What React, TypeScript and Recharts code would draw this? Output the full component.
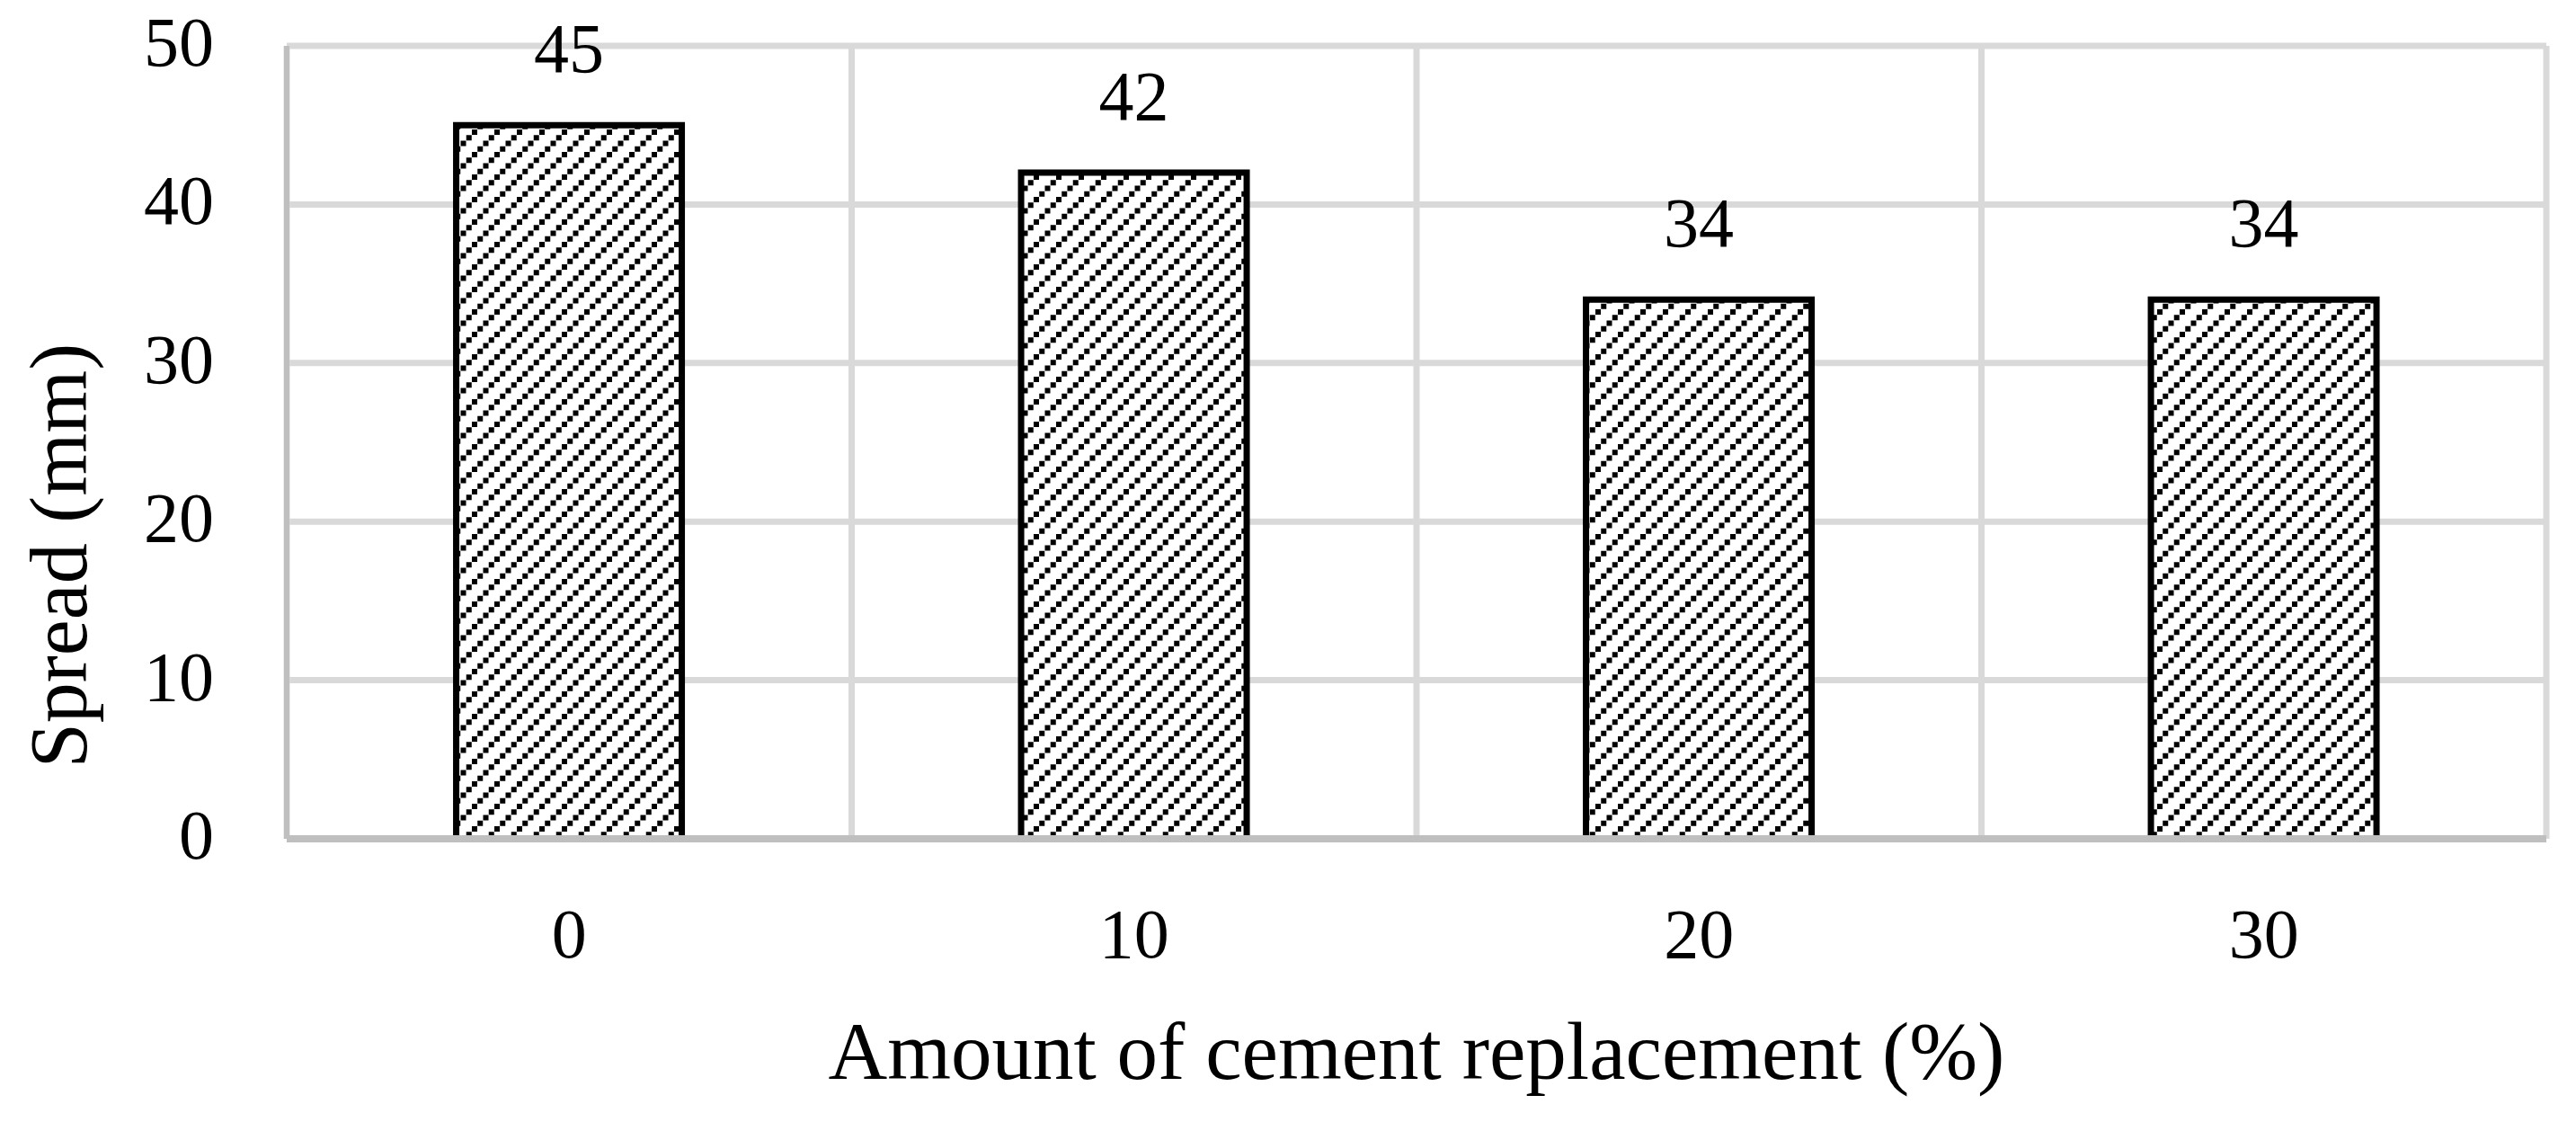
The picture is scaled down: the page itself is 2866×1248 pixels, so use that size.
import React from 'react';
import { BarChart, Bar, XAxis, YAxis, CartesianGrid, LabelList } from 'recharts';

const categories = ['0', '10', '20', '30'];
const spreadValues = [45, 42, 34, 34];
const yTicks = [0, 10, 20, 30, 40, 50];
const xTitle = 'Amount of cement replacement (%)';
const yTitle = 'Spread (mm)';

const data = categories.map((c, i) => ({ pct: c, spread: spreadValues[i] }));

const FONT = '"Liberation Serif", "Times New Roman", serif';

const XTick = (props: any) => {
  const { x, y, payload } = props;
  return (
    <text x={x} y={y} dy={132} textAnchor="middle" fontFamily={FONT} fontSize={78} fill="#000">
      {payload.value}
    </text>
  );
};

const YTick = (props: any) => {
  const { x, y, payload } = props;
  return (
    <text x={x} y={y} dy={22} textAnchor="end" fontFamily={FONT} fontSize={78} fill="#000">
      {payload.value}
    </text>
  );
};

const XTitle = (props: any) => {
  const vb = props.viewBox || { x: 319, width: 2514 };
  return (
    <text x={vb.x + vb.width / 2} y={1200} textAnchor="middle" fontFamily={FONT} fontSize={91} fill="#000">
      {xTitle}
    </text>
  );
};

const YTitle = () => (
  <text
    x={96}
    y={618}
    transform="rotate(-90 96 618)"
    textAnchor="middle"
    fontFamily={FONT}
    fontSize={90}
    fill="#000"
  >
    {yTitle}
  </text>
);

export default function App() {
  return (
    <div style={{ position: 'absolute', left: 0, top: 0, width: 2866, height: 1248, background: '#fff' }}>
      <svg width={0} height={0} style={{ position: 'absolute' }}>
        <defs>
          <pattern id="hatch" patternUnits="userSpaceOnUse" width={25} height={25}>
            <rect x={0} y={0} width={25} height={25} fill="#fff" />
            <rect x={0} y={19} width={6} height={6} fill="#000" />
            <rect x={6.25} y={12.75} width={6} height={6} fill="#000" />
            <rect x={12.5} y={6.5} width={6} height={6} fill="#000" />
            <rect x={18.75} y={0.25} width={6} height={6} fill="#000" />
          </pattern>
        </defs>
      </svg>
      <BarChart
        width={2866}
        height={1248}
        data={data}
        margin={{ top: 51, right: 33, bottom: 0, left: 79 }}
        barCategoryGap="30%"
      >
        <CartesianGrid
          stroke="#d9d9d9"
          strokeWidth={7}
          horizontal={true}
          vertical={true}
          verticalCoordinatesGenerator={({ offset }: any) =>
            [...categories.map((_, i) => offset.left + (i * offset.width) / categories.length), offset.left + offset.width]
          }
        />
        <YAxis
          width={240}
          domain={[0, 50]}
          ticks={yTicks}
          interval={0}
          tickLine={false}
          tickSize={0}
          tickMargin={81}
          axisLine={{ stroke: '#bfbfbf', strokeWidth: 6 }}
          tick={<YTick />}
          label={<YTitle />}
        />
        <Bar dataKey="spread" fill="url(#hatch)" stroke="#000" strokeWidth={7} isAnimationActive={false}>
          <LabelList
            dataKey="spread"
            position="top"
            offset={59}
            fontFamily={FONT}
            fontSize={78}
            fill="#000"
          />
        </Bar>
        <XAxis
          dataKey="pct"
          height={315}
          tickLine={false}
          tickSize={0}
          tickMargin={0}
          interval={0}
          axisLine={{ stroke: '#bfbfbf', strokeWidth: 8 }}
          tick={<XTick />}
          label={<XTitle />}
        />
      </BarChart>
    </div>
  );
}
